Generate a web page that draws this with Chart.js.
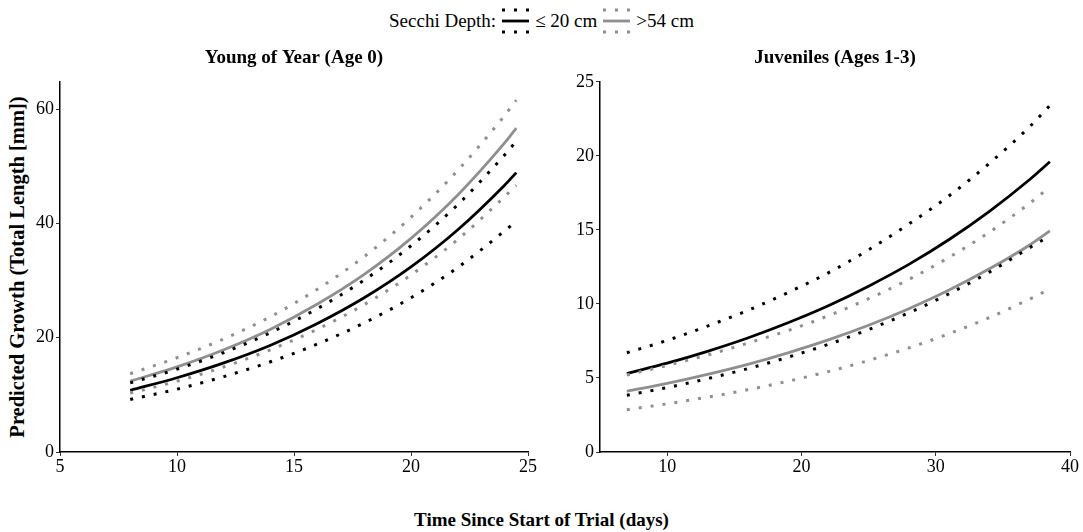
<!DOCTYPE html>
<html>
<head>
<meta charset="utf-8">
<script src="https://cdn.jsdelivr.net/npm/chart.js@4.4.1/dist/chart.umd.min.js"></script>
<style>
  html, body { margin: 0; padding: 0; background: #fff; }
  body { width: 1083px; height: 532px; position: relative; overflow: hidden;
         font-family: "Liberation Serif", "Times New Roman", serif; color: #000; }
  #c1 { position: absolute; left: 0; top: 0; }
  #c2 { position: absolute; left: 560px; top: 0; }
  #legend { position: absolute; top: 5px; left: 0; width: 1083px; height: 32px;
            display: flex; justify-content: center; align-items: center; font-size: 19px; }
  #legend svg { margin: 0 6px 0 6px; }
  #ytitle { position: absolute; left: 17px; top: 267px; white-space: nowrap;
            transform: translate(-50%, -50%) rotate(-90deg);
            font-weight: bold; font-size: 20.5px; }
  #xtitle { position: absolute; left: 0; width: 1083px; top: 509px; text-align: center;
            font-weight: bold; font-size: 19px; }
</style>
</head>
<body>
<div id="legend">
  <span>Secchi Depth:</span>
  <svg width="27" height="32" viewBox="0 0 27 32">
    <line x1="0" y1="5" x2="27" y2="5" stroke="#000" stroke-width="3" stroke-dasharray="3 9"/>
    <line x1="0" y1="16" x2="27" y2="16" stroke="#000" stroke-width="2.8"/>
    <line x1="0" y1="27" x2="27" y2="27" stroke="#000" stroke-width="3" stroke-dasharray="3 9"/>
  </svg>
  <span>≤ 20 cm</span>
  <svg width="27" height="32" viewBox="0 0 27 32">
    <line x1="0" y1="5" x2="27" y2="5" stroke="#8f8f8f" stroke-width="3" stroke-dasharray="3 9"/>
    <line x1="0" y1="16" x2="27" y2="16" stroke="#8f8f8f" stroke-width="2.8"/>
    <line x1="0" y1="27" x2="27" y2="27" stroke="#8f8f8f" stroke-width="3" stroke-dasharray="3 9"/>
  </svg>
  <span>&gt;54 cm</span>
</div>
<div id="ytitle">Predicted Growth (Total Length [mm])</div>
<div id="xtitle">Time Since Start of Trial (days)</div>
<canvas id="c1" width="560" height="532"></canvas>
<canvas id="c2" width="523" height="532"></canvas>

<script>
// Young of Year (Age 0)
const yoyDays = [8, 10, 12, 14, 16, 18, 20, 22, 24, 24.5];
const yoyLowFit   = [10.8, 13.0, 15.6, 18.7, 22.5, 27.0, 32.4, 38.9, 46.7, 48.9];
const yoyLowUpper = [12.1, 14.5, 17.4, 20.9, 25.1, 30.1, 36.1, 43.3, 52.0, 54.4];
const yoyLowLower = [9.2, 11.0, 13.2, 15.8, 18.9, 22.6, 27.0, 32.3, 38.7, 40.4];
const yoyHighFit   = [12.4, 14.9, 17.9, 21.5, 25.9, 31.1, 37.4, 45.0, 54.1, 56.7];
const yoyHighUpper = [13.7, 16.5, 19.8, 23.7, 28.5, 34.2, 41.1, 49.3, 58.9, 61.6];
const yoyHighLower = [10.3, 12.4, 14.9, 17.9, 21.5, 25.8, 31.0, 37.2, 44.7, 46.7];
const yoyXTicks = [5, 10, 15, 20, 25];
const yoyYTicks = [0, 20, 40, 60];

// Juveniles (Ages 1-3)
const juvDays = [7, 10, 13, 16, 19, 22, 25, 28, 31, 34, 37, 38.5];
const juvLowFit   = [5.3, 6.0, 6.8, 7.7, 8.73, 9.88, 11.2, 12.67, 14.35, 16.25, 18.4, 19.6];
const juvLowUpper = [6.7, 7.54, 8.5, 9.56, 10.77, 12.1, 13.65, 15.4, 17.3, 19.5, 21.97, 23.4];
const juvLowLower = [3.83, 4.35, 4.95, 5.63, 6.4, 7.27, 8.27, 9.4, 10.69, 12.15, 13.8, 14.6];
const juvHighFit   = [4.1, 4.63, 5.24, 5.92, 6.7, 7.57, 8.56, 9.68, 10.94, 12.37, 13.98, 14.93];
const juvHighUpper = [5.2, 5.85, 6.55, 7.35, 8.2, 9.2, 10.35, 11.65, 13.15, 14.85, 16.8, 17.9];
const juvHighLower = [2.86, 3.25, 3.7, 4.2, 4.78, 5.43, 6.18, 7.03, 7.99, 9.08, 10.33, 11.0];
const juvXTicks = [10, 20, 30, 40];
const juvYTicks = [0, 5, 10, 15, 20, 25];

const BLACK = '#000000';
const GRAY = '#8f8f8f';
const FONT = '"Liberation Serif", "Times New Roman", serif';

function pts(xs, ys) { return xs.map((x, i) => ({ x: x, y: ys[i] })); }

function solid(xs, ys, color) {
  return { data: pts(xs, ys), borderColor: color, borderWidth: 2.8, fill: false };
}
function dotted(xs, ys, color) {
  return { data: pts(xs, ys), borderColor: color, borderWidth: 3, borderDash: [3, 9], fill: false };
}

function makePanel(id, title, xs, series, xr, yr, xTicks, yTicks, yWidth, padRight) {
  const tickFont = { family: FONT, size: 18 };
  return new Chart(document.getElementById(id), {
    type: 'line',
    data: {
      datasets: [
        dotted(xs, series[0], BLACK), dotted(xs, series[1], BLACK),
        dotted(xs, series[3], GRAY), dotted(xs, series[4], GRAY),
        solid(xs, series[5], GRAY), solid(xs, series[2], BLACK)
      ]
    },
    options: {
      responsive: false,
      animation: false,
      layout: { padding: { top: 40, right: padRight, bottom: 50, left: 0 } },
      elements: { point: { radius: 0 }, line: { cubicInterpolationMode: 'monotone', borderCapStyle: 'butt' } },
      plugins: {
        legend: { display: false },
        tooltip: { enabled: false },
        title: { display: true, text: title, fullSize: false, color: '#000',
                 font: { family: FONT, size: 19, weight: 'bold' }, padding: { top: 7, bottom: 12 } }
      },
      scales: {
        x: {
          type: 'linear', min: xr[0], max: xr[1],
          afterBuildTicks: s => { s.ticks = xTicks.map(v => ({ value: v })); },
          afterFit: s => { s.height = 30; s.paddingLeft = 0; s.paddingRight = 0; },
          grid: { drawOnChartArea: false, drawTicks: true, tickLength: 4, color: '#333' },
          border: { display: true, color: '#000', width: 1.5 },
          ticks: { font: tickFont, color: '#000', padding: 0, maxRotation: 0 }
        },
        y: {
          type: 'linear', min: yr[0], max: yr[1],
          afterBuildTicks: s => { s.ticks = yTicks.map(v => ({ value: v })); },
          afterFit: s => { s.width = yWidth; s.paddingTop = 0; s.paddingBottom = 0; },
          grid: { drawOnChartArea: false, drawTicks: true, tickLength: 4, color: '#333' },
          border: { display: true, color: '#000', width: 1.5 },
          ticks: { font: tickFont, color: '#000', padding: 2 }
        }
      }
    }
  });
}

// series order: low upper, low lower, low fit, high upper, high lower, high fit
makePanel('c1', 'Young of Year (Age 0)', yoyDays,
  [yoyLowUpper, yoyLowLower, yoyLowFit, yoyHighUpper, yoyHighLower, yoyHighFit],
  [5, 25], [0, 64.8], yoyXTicks, yoyYTicks, 60, 32);
makePanel('c2', 'Juveniles (Ages 1-3)', juvDays,
  [juvLowUpper, juvLowLower, juvLowFit, juvHighUpper, juvHighLower, juvHighFit],
  [5, 40], [0, 25], juvXTicks, juvYTicks, 40, 13);
</script>
</body>
</html>
